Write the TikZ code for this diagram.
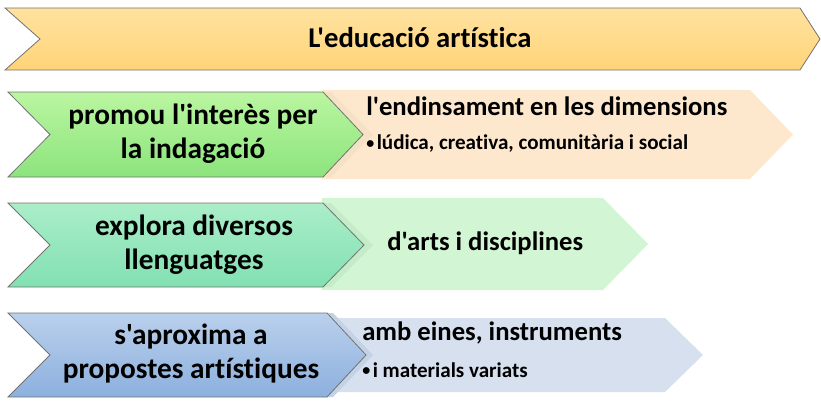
\documentclass[tikz,border=0pt]{standalone}
\usepackage{fontspec}
\setmainfont{Carlito}[Ligatures={TeXOff,NoCommon}]
\newcommand{\smbul}{\raisebox{0.08em}{\fontsize{12}{12}\selectfont\textbullet}\hspace{0.12em}}
\begin{document}
\begin{tikzpicture}[x=0.75pt,y=-0.75pt,
  chev/.style={draw=black!55, line width=0.6pt},
  ghost/.style={line width=0pt},
  maintxt/.style={font=\bfseries\fontsize{22}{25.5}\selectfont, align=center, inner sep=0pt},
  subtxt/.style={font=\bfseries\fontsize{20}{24}\selectfont, anchor=west, inner sep=0pt},
  bultxt/.style={font=\bfseries\fontsize{15.8}{18}\selectfont, anchor=west, inner sep=0pt}
]
\useasboundingbox (0,0) rectangle (821,401);
\definecolor{peach}{HTML}{FDE8CD}
\definecolor{mint}{HTML}{D2F5D3}
\definecolor{paleblue}{HTML}{D6E0EE}

% top chevron
\path[chev, top color={rgb,255:red,255;green,226;blue,160}, bottom color={rgb,255:red,255;green,212;blue,120}]
  (5,8) -- (800,8) -- (820,39) -- (800,70) -- (5,70) -- (40,39) -- cycle;
\node[font=\bfseries\fontsize{21.5}{25}\selectfont, inner sep=0pt] (title) at (420,38) {L'educació artística};

% row 1
\fill[peach] (322,90) -- (750,90) -- (793,134.5) -- (750,179) -- (322,179) -- cycle;
\fill[ghost, fill={rgb,255:red,245;green,225;blue,195}] (322,92) -- (331,92) -- (373,134.5) -- (331,177) -- (322,177) -- cycle;
\path[chev, top color={rgb,255:red,186;green,246;blue,160}, bottom color={rgb,255:red,140;green,228;blue,125}]
  (8,92) -- (323,92) -- (363,134.5) -- (323,177) -- (8,177) -- (50,134.5) -- cycle;
\node[maintxt] (m1) at (193,134) {promou l'interès per\\la indagació};
\node[subtxt] (s1) at (366,106) {l'endinsament en les dimensions};
\node[bultxt] (b1) at (366,144) {\smbul lúdica, creativa, comunitària i social};

% row 2
\fill[mint] (322,198) -- (603,198) -- (648,244) -- (603,290) -- (322,290) -- cycle;
\fill[ghost, fill={rgb,255:red,196;green,236;blue,200}] (322,203) -- (331,203) -- (373,245) -- (331,287) -- (322,287) -- cycle;
\path[chev, top color={rgb,255:red,170;green,238;blue,200}, bottom color={rgb,255:red,130;green,224;blue,178}]
  (8,203) -- (323,203) -- (364,245) -- (323,287) -- (8,287) -- (50,245) -- cycle;
\node[maintxt] (m2) at (194,245) {explora diversos\\llenguatges};
\node[subtxt] (s2) at (387,243) {d'arts i disciplines};

% row 3
\fill[paleblue] (322,318) -- (665,318) -- (703,355) -- (665,392) -- (322,392) -- cycle;
\fill[ghost, fill={rgb,255:red,196;green,210;blue,230}] (322,313) -- (333,313) -- (373,355) -- (333,397) -- (322,397) -- cycle;
\path[chev, top color={rgb,255:red,186;green,208;blue,236}, bottom color={rgb,255:red,140;green,176;blue,222}]
  (8,313) -- (327,313) -- (366,355) -- (327,397) -- (8,397) -- (50,355) -- cycle;
\node[maintxt] (m3) at (191,354) {s'aproxima a\\propostes artístiques};
\node[subtxt] (s3) at (362,333) {amb eines, instruments};
\node[bultxt] (b3) at (362,370) {\smbul i materials variats};
\end{tikzpicture}
\end{document}
